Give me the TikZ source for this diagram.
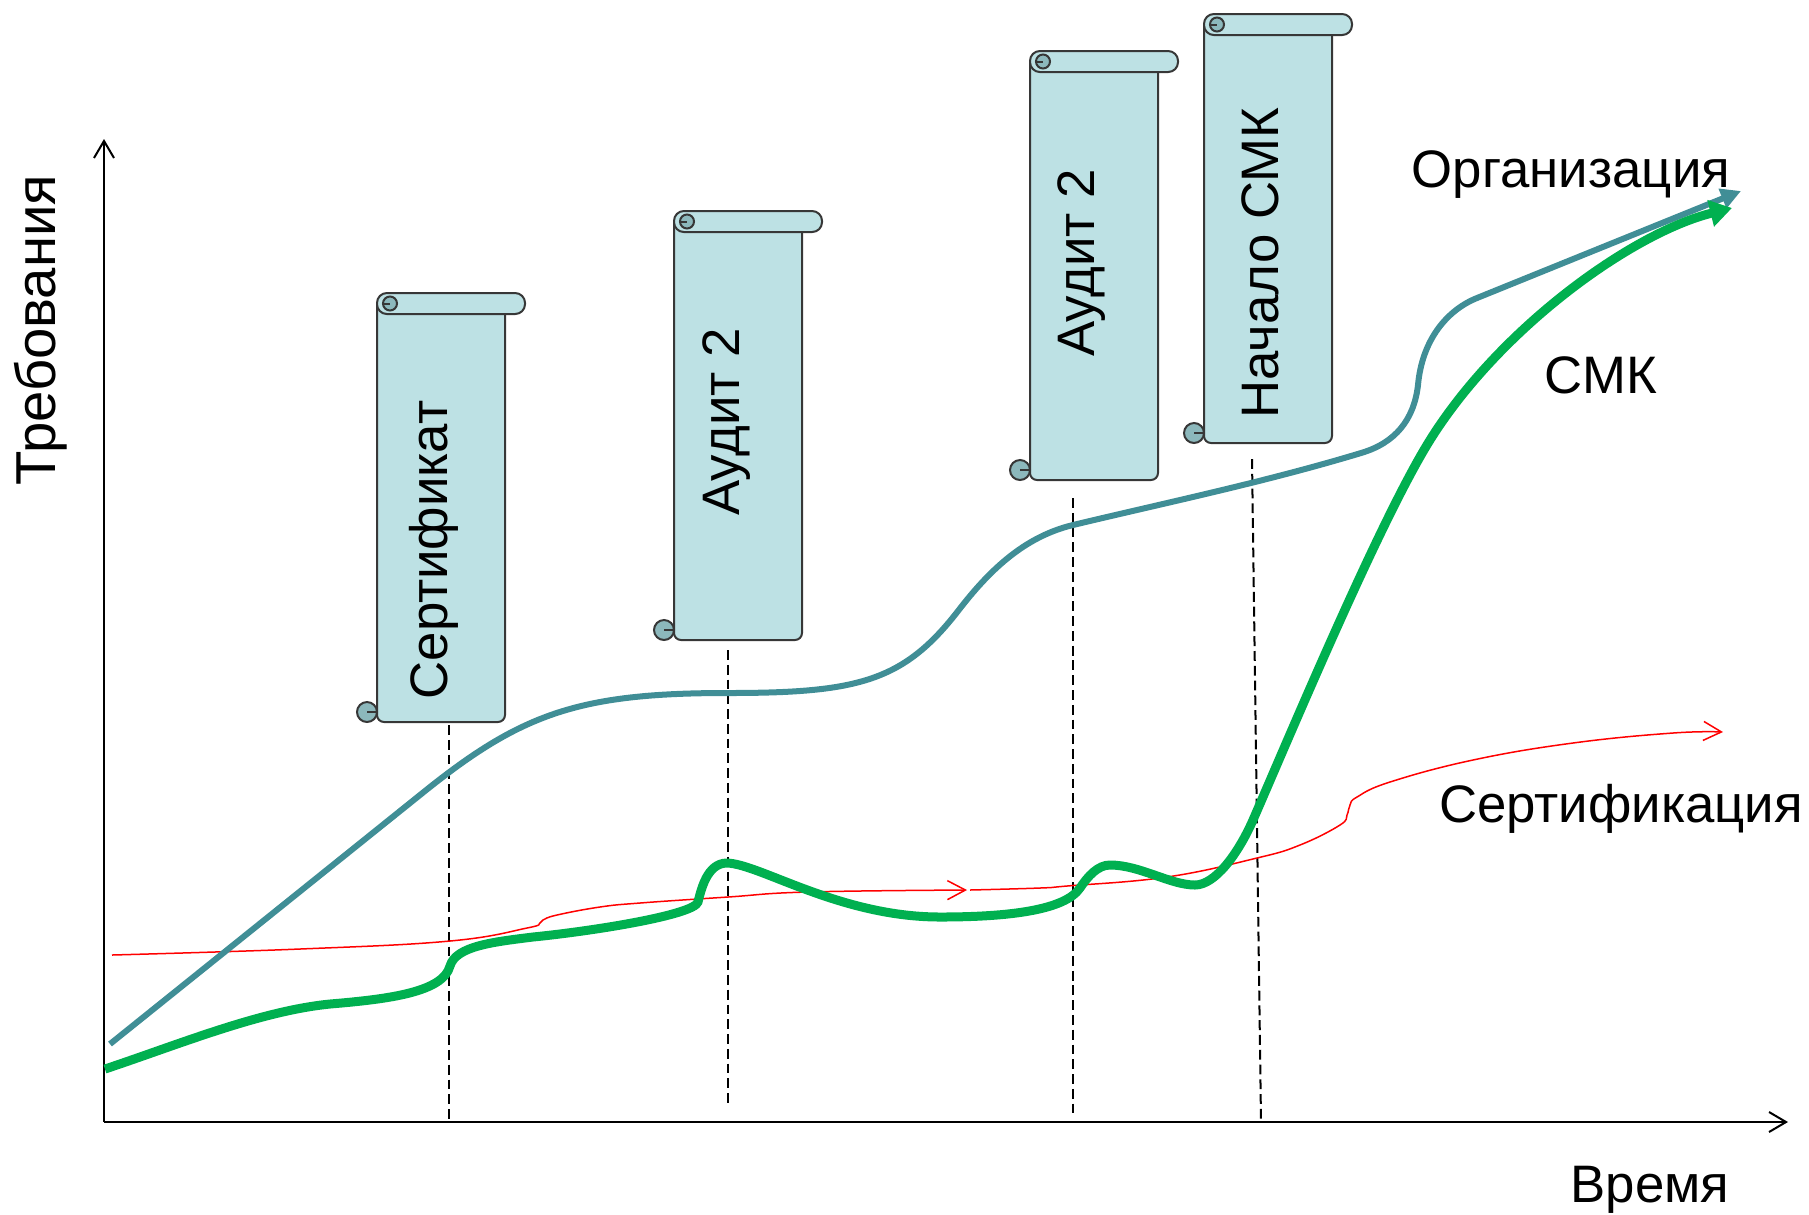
\documentclass[tikz,border=0pt]{standalone}
\usepackage{fontspec}
\setmainfont{Liberation Sans}
\usepackage{tikz}
\usetikzlibrary{arrows.meta}
\definecolor{orgteal}{RGB}{64,142,150}
\definecolor{smkgreen}{RGB}{0,176,80}
\definecolor{scrollfill}{RGB}{189,225,228}
\definecolor{curlfill}{RGB}{140,184,188}
\definecolor{scrolledge}{RGB}{55,55,55}
\tikzset{lbl/.style={font=\fontsize{15}{18}\selectfont, inner sep=0pt}}
\tikzset{edge/.style={draw=scrolledge, line width=0.02cm}}
\tikzset{paper/.pic={
  \draw[edge, fill=scrollfill, rounded corners=2pt] (0,12) -- (0,429) -- (128,429) -- (128,12);
  \draw[edge, fill=scrollfill, rounded corners=2.8pt] (0,0) rectangle (148,21);
  \draw[edge, fill=curlfill] (13,10.5) circle (7);
  \draw[edge] (6,10.5) -- (13,10.5);
  \draw[edge, fill=curlfill] (-10,419) circle (10);
  \draw[edge] (-10,419) -- (0,419);
}}

\begin{document}
\begin{tikzpicture}[x=0.01cm, y=-0.01cm]
\tikzstyle{axisline} = [line width=0.02cm, -{Straight Barb[length=0.17cm,width=0.2cm]}]
\tikzstyle{guide} = [line width=0.02cm, dash pattern=on 2.8pt off 1.4pt]
\tikzstyle{org} = [orgteal, line width=0.06cm, -{Triangle[length=0.2cm,width=0.2cm]}]
\tikzstyle{smk} = [smkgreen, line width=0.09cm, -{Triangle[length=0.22cm,width=0.26cm]}]
\tikzstyle{cert} = [red, line width=0.015cm, -{Straight Barb[length=0.18cm,width=0.19cm]}]
\useasboundingbox (0,0) rectangle (1809,1214);

\coordinate (O) at (104,1122);
\coordinate (Y) at (104,139);
\coordinate (X) at (1788,1122);
\draw[axisline] (O) -- (Y);
\draw[axisline] (O) -- (X);
\node[lbl, font=\fontsize{16}{19}\selectfont, rotate=90, anchor=base] (req) at (55,330) {Требования};
\node[lbl, anchor=base] (time) at (1650,1202) {Время};

\pic at (377,293) {paper};
\pic at (674,211) {paper};
\pic at (1030,51) {paper};
\pic at (1204,14) {paper};
\node[lbl, rotate=90, anchor=base] (s1) at (447,550) {Сертификат};
\node[lbl, rotate=90, anchor=base] (s2) at (739,422) {Аудит 2};
\node[lbl, rotate=90, anchor=base] (s3) at (1094,263) {Аудит 2};
\node[lbl, rotate=90, anchor=base] (s4) at (1278,263) {Начало СМК};

\coordinate (d1a) at (449,725);
\coordinate (d1b) at (449,1122);
\coordinate (d2a) at (728,650);
\coordinate (d2b) at (728,1105);
\coordinate (d3a) at (1073,498);
\coordinate (d3b) at (1073,1113);
\coordinate (d4a) at (1252,459);
\coordinate (d4b) at (1261,1121);
\draw[guide] (d1a) -- (d1b);
\draw[guide] (d2a) -- (d2b);
\draw[guide] (d3a) -- (d3b);
\draw[guide] (d4a) -- (d4b);

\draw[cert] plot[smooth, tension=0.7] coordinates {(112,955) (300,949) (450,941) (527,928) (540,923) (543,920) (557,915) (600,907) (640,903) (728,897) (807,892) (967,890)};
\draw[cert] plot[smooth, tension=0.7] coordinates {(970,890) (1040,888) (1067,886) (1167,877) (1257,858) (1300,845) (1340,825) (1347,815) (1350,805) (1357,797) (1390,782) (1473,760) (1573,743) (1673,733) (1723,732)};

\draw[org] (110,1044) -- (420,795)
  .. controls (520,714) and (577,693) .. (727,693)
  .. controls (857,693) and (903,682) .. (958,611)
  .. controls (988,572) and (1023,537) .. (1073,525)
  .. controls (1169,502) and (1265,482) .. (1361,453)
  .. controls (1395,443) and (1414,420) .. (1418,385)
  .. controls (1422,340) and (1447,310) .. (1477,298) -- (1741,191);

\draw[smk] (105,1069)
  .. controls (180,1044) and (260,1011) .. (330,1004)
  .. controls (390,999) and (443,992) .. (450,966)
  .. controls (456,946) and (493,942) .. (533,937)
  .. controls (593,931) and (694,915) .. (698,902)
  .. controls (701,890) and (707,863) .. (727,863)
  .. controls (760,864) and (840,917) .. (940,917)
  .. controls (1010,917) and (1065,910) .. (1080,888)
  .. controls (1088,876) and (1098,865) .. (1110,865)
  .. controls (1140,865) and (1170,885) .. (1195,885)
  .. controls (1215,885) and (1238,854) .. (1253,820)
  .. controls (1290,735) and (1380,520) .. (1430,440)
  .. controls (1500,328) and (1632,233) .. (1732,208);

\node[lbl, anchor=base] (orglbl) at (1571,187) {Организация};
\node[lbl, anchor=base] (smklbl) at (1601,393) {СМК};
\node[lbl, anchor=base] (certlbl) at (1621,822) {Сертификация};
\end{tikzpicture}
\end{document}
